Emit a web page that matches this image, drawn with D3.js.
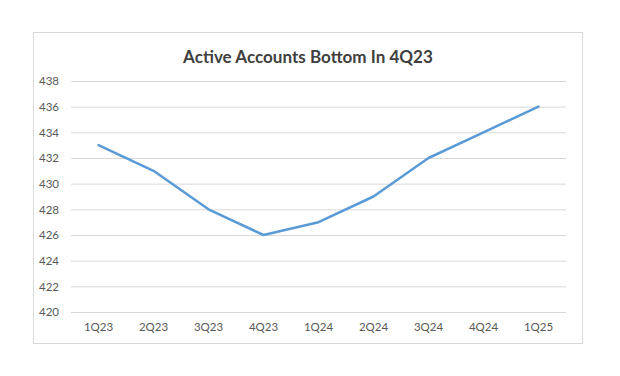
<!DOCTYPE html>
<html><head><meta charset="utf-8">
<script src="https://cdn.jsdelivr.net/npm/d3@7"></script>
<style>body{margin:0;background:#fff;}svg{display:block;}</style>
</head><body>
<script>
const categories = ["1Q23","2Q23","3Q23","4Q23","1Q24","2Q24","3Q24","4Q24","1Q25"];
const values = [433, 431, 428, 426, 427, 429, 432, 434, 436];
const yTicks = [420,422,424,426,428,430,432,434,436,438];
const title = "Active Accounts Bottom In 4Q23";

(function () {
const W = 620, H = 376;
const svg = d3.select("body").append("svg").attr("width", W).attr("height", H);
svg.append("rect").attr("x", 33.5).attr("y", 32.5).attr("width", 549).attr("height", 311)
  .attr("fill", "#fff").attr("stroke", "#d9d9d9");

const mLeft = 71, mRight = 566, mTop = 81, mBottom = 312;
const x = d3.scaleBand().domain(categories).range([mLeft, mRight]);
const y = d3.scaleLinear().domain([420, 438]).range([mBottom, mTop]);
const font = "Lato, Carlito, 'Open Sans', 'Liberation Sans', sans-serif";

const t = svg.append("text").attr("x", 308).attr("y", 63).attr("text-anchor", "middle")
  .attr("font-family", font).attr("font-weight", "bold").attr("font-size", 18)
  .attr("fill", "#404040").text(title);
// fit title to reference width (~250px)
const tw = t.node().getComputedTextLength();
if (tw > 0) t.attr("font-size", 18 * 250 / tw);

const yAxis = d3.axisLeft(y).tickValues(yTicks).tickSize(-(mRight - mLeft)).tickPadding(12);
const gy = svg.append("g").attr("transform", `translate(${mLeft},0)`).call(yAxis);
gy.select(".domain").remove();
gy.selectAll("line").attr("stroke", "#d9d9d9");
gy.selectAll("text").attr("font-family", font).attr("font-size", 11.5).attr("fill", "#595959");

const xAxis = d3.axisBottom(x).tickSize(0).tickPadding(11);
const gx = svg.append("g").attr("transform", `translate(0,${mBottom})`).call(xAxis);
gx.select(".domain").remove();
gx.selectAll("text").attr("font-family", font).attr("font-size", 11.5).attr("fill", "#595959");

const line = d3.line().x((d, i) => x(categories[i]) + x.bandwidth() / 2).y(d => y(d));
svg.append("path").datum(values).attr("d", line).attr("fill", "none")
  .attr("stroke", "#5b9bd5").attr("stroke-width", 2.5).attr("stroke-linejoin", "round").attr("stroke-linecap", "round");
})();
</script>
</body></html>
